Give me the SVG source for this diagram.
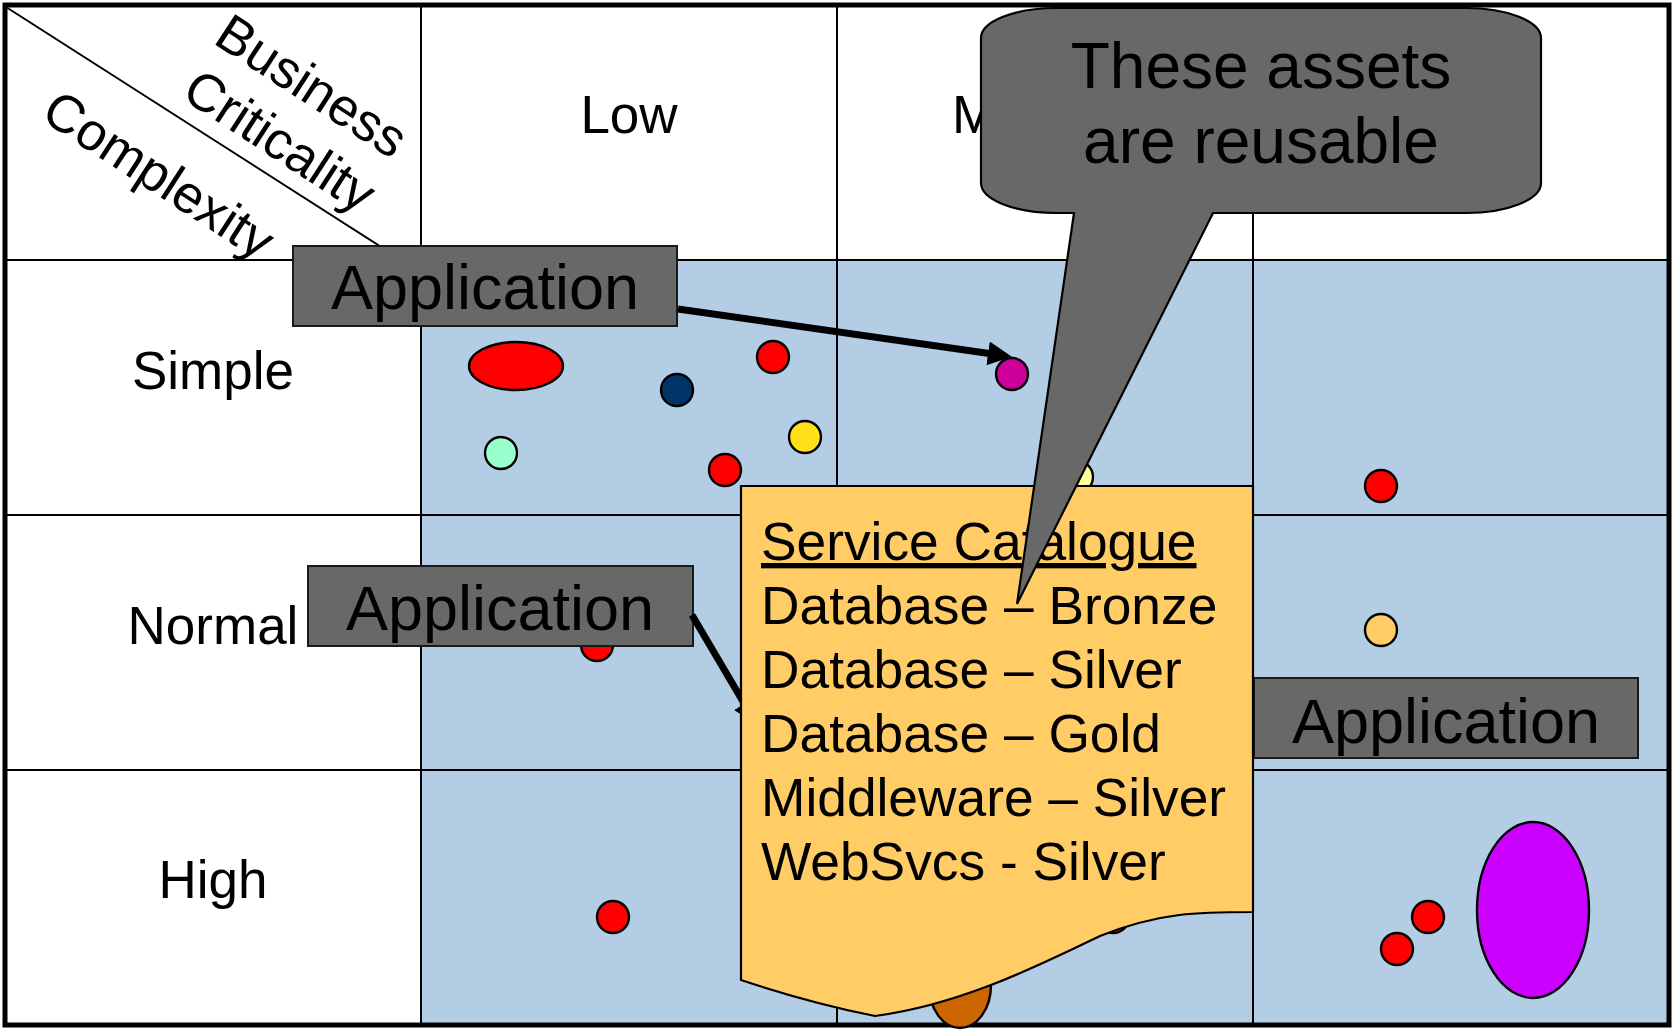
<svg xmlns="http://www.w3.org/2000/svg" width="1672" height="1030" viewBox="0 0 1672 1030">
  <defs>
    <style>
      .t { font-family: "Liberation Sans", Arial, sans-serif; fill: #000; }
      .hdr { font-size: 53px; text-anchor: middle; }
      .app { font-size: 63px; text-anchor: middle; }
      .cat { font-size: 53.3px; }
      .call { font-size: 64px; text-anchor: middle; }
      .grid { stroke: #000; stroke-width: 2; fill: none; }
      .dot { stroke: #000; stroke-width: 2.4; }
      .box { fill: #686868; stroke: #1a1a1a; stroke-width: 2; }
      .conn { stroke: #000; stroke-width: 7; fill: none; }
    </style>
    <marker id="arrow" markerUnits="userSpaceOnUse" viewBox="0 0 24 24" refX="10" refY="12" markerWidth="24" markerHeight="24" orient="auto">
      <path d="M0,0 L24,12 L0,24 z" fill="#000"/>
    </marker>
  </defs>

  <rect x="0" y="0" width="1672" height="1030" fill="#fff"/>

  <g id="matrix">
    <rect x="421" y="260" width="1246" height="765" fill="#B3CDE5"/>
    <line class="grid" x1="421" y1="5" x2="421" y2="1025"/>
    <line class="grid" x1="837" y1="5" x2="837" y2="1025"/>
    <line class="grid" x1="1253" y1="5" x2="1253" y2="1025"/>
    <line class="grid" x1="5" y1="260" x2="1667" y2="260"/>
    <line class="grid" x1="5" y1="515" x2="1667" y2="515"/>
    <line class="grid" x1="5" y1="770" x2="1667" y2="770"/>
    <line class="grid" x1="6" y1="7" x2="400" y2="259"/>
    <rect x="5" y="5" width="1664" height="1020" fill="none" stroke="#000" stroke-width="5"/>
  </g>

  <g id="headers">
    <text class="t hdr" transform="translate(302,101) rotate(33)" x="0" y="0">Business</text>
    <text class="t hdr" transform="translate(270,156) rotate(33)" x="0" y="0">Criticality</text>
    <text class="t hdr" transform="translate(149,190) rotate(33)" x="0" y="0">Complexity</text>
    <text class="t hdr" x="629" y="133">Low</text>
    <text class="t" style="font-size:53px" x="952" y="133">M</text>
    <text class="t hdr" x="213" y="389">Simple</text>
    <text class="t hdr" x="213" y="644">Normal</text>
    <text class="t hdr" x="213" y="898">High</text>
  </g>

  <g id="assets">
    <ellipse class="dot" cx="516" cy="366" rx="47" ry="24" fill="#FF0000"/>
    <circle class="dot" cx="501" cy="453" r="16" fill="#99FFCC"/>
    <circle class="dot" cx="677" cy="390" r="16" fill="#003366"/>
    <circle class="dot" cx="773" cy="357" r="16" fill="#FF0000"/>
    <circle class="dot" cx="805" cy="437" r="16" fill="#FFE01A"/>
    <circle class="dot" cx="725" cy="470" r="16" fill="#FF0000"/>
    <circle class="dot" cx="1012" cy="374" r="16" fill="#CC0099"/>
    <circle class="dot" cx="1077" cy="477" r="16" fill="#FFFF99"/>
    <circle class="dot" cx="597" cy="645" r="16" fill="#FF0000"/>
    <circle class="dot" cx="613" cy="917" r="16" fill="#FF0000"/>
    <circle class="dot" cx="1113" cy="917" r="16" fill="#FF0000"/>
    <circle class="dot" cx="1381" cy="486" r="16" fill="#FF0000"/>
    <circle class="dot" cx="1381" cy="630" r="16" fill="#FFCC66"/>
    <circle class="dot" cx="1428" cy="917" r="16" fill="#FF0000"/>
    <circle class="dot" cx="1397" cy="949" r="16" fill="#FF0000"/>
    <ellipse class="dot" cx="1533" cy="910" rx="56" ry="88" fill="#CC00FF"/>
    <ellipse class="dot" cx="960" cy="985" rx="31" ry="43" fill="#CC6600"/>
  </g>

  <g id="app-top">
    <rect class="box" x="293" y="246" width="384" height="80"/>
    <text class="t app" x="485" y="309">Application</text>
  </g>
  <g id="app-mid">
    <rect class="box" x="308" y="566" width="385" height="80"/>
    <text class="t app" x="500" y="630">Application</text>
  </g>
  <g id="app-right">
    <rect class="box" x="1254" y="678" width="384" height="80"/>
    <text class="t app" x="1446" y="743">Application</text>
  </g>

  <g id="connectors">
    <line class="conn" x1="678" y1="309" x2="998" y2="354.8" marker-end="url(#arrow)"/>
    <line class="conn" x1="692" y1="615" x2="749.5" y2="712.5" marker-end="url(#arrow)"/>
  </g>

  <g id="service-catalogue">
    <path d="M741,486 H1253 V912 C1200,912 1160,912 1100,936 C1040,965 960,1005 875,1016 Q810,1003 741,980 Z" fill="#FFCC66" stroke="#000" stroke-width="2.2"/>
    <text class="t cat" x="761" y="560" text-decoration="underline">Service Catalogue</text>
    <text class="t cat" x="761" y="624">Database – Bronze</text>
    <text class="t cat" x="761" y="688">Database – Silver</text>
    <text class="t cat" x="761" y="752">Database – Gold</text>
    <text class="t cat" x="761" y="816">Middleware – Silver</text>
    <text class="t cat" x="761" y="880">WebSvcs - Silver</text>
  </g>

  <g id="callout">
    <path d="M1056,8 H1466 A75 30 0 0 1 1541,38 V183 A75 30 0 0 1 1466,213 H1213 L1017,604 L1074,213 H1056 A75 30 0 0 1 981,183 V38 A75 30 0 0 1 1056,8 Z" fill="#686868" stroke="#000" stroke-width="2.2"/>
    <text class="t call" x="1261" y="88">These assets</text>
    <text class="t call" x="1261" y="163">are reusable</text>
  </g>
</svg>
